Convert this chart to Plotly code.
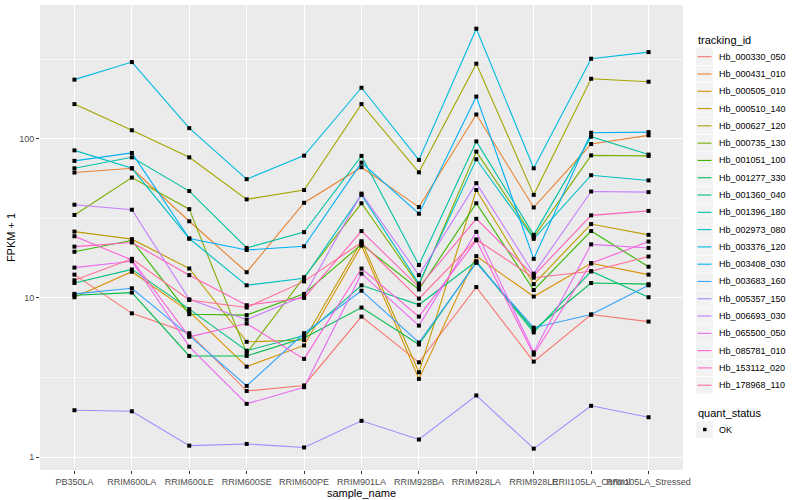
import plotly.graph_objects as go

samples = ["PB350LA", "RRIM600LA", "RRIM600LE", "RRIM600SE", "RRIM600PE", "RRIM901LA",
           "RRIM928BA", "RRIM928LA", "RRIM928LE", "RRII105LA_Control", "RRII105LA_Stressed"]

tracking_ids = ["Hb_000330_050", "Hb_000431_010", "Hb_000505_010", "Hb_000510_140", "Hb_000627_120",
                "Hb_000735_130", "Hb_001051_100", "Hb_001277_330", "Hb_001360_040", "Hb_001396_180",
                "Hb_002973_080", "Hb_003376_120", "Hb_003408_030", "Hb_003683_160", "Hb_005357_150",
                "Hb_006693_030", "Hb_065500_050", "Hb_085781_010", "Hb_153112_020", "Hb_178968_110"]

colors = ["#F8766D", "#EA8331", "#D89000", "#C09B00", "#A3A500", "#7CAE00", "#39B600", "#00BB4E",
          "#00BF7D", "#00C1A3", "#00BFC4", "#00BAE0", "#00B0F6", "#35A2FF", "#9590FF", "#C77CFF",
          "#E76BF3", "#FA62DB", "#FF62BC", "#FF6C91"]

quant_status = ["OK"]

# FPKM + 1 per sample, one list per tracking_id
Hb_000330_050 = [14.0, 8.0, 6.0, 2.6, 2.82, 7.63, 3.94, 11.7, 3.98, 7.86, 7.1]
Hb_000431_010 = [61.3, 65.2, 30.3, 14.5, 39.6, 66.2, 37.2, 142, 37.0, 92.6, 105]
Hb_000505_010 = [10.1, 14.6, 8.2, 3.7, 5.03, 21.3, 3.1, 18.3, 10.2, 16.5, 14.0]
Hb_000510_140 = [26.1, 23.4, 15.3, 5.3, 5.44, 22.7, 3.41, 47.6, 12.2, 29.1, 24.9]
Hb_000627_120 = [165, 113, 76.4, 41.6, 47.6, 165, 61.5, 296, 44.4, 238, 228]
Hb_000735_130 = [33.2, 57.0, 36.1, 4.5, 13.5, 39.3, 12.0, 83.0, 24.0, 78.6, 78.0]
Hb_001051_100 = [19.5, 23.0, 7.9, 7.8, 10.6, 21.7, 11.3, 39.3, 11.2, 26.3, 15.7]
Hb_001277_330 = [10.4, 10.8, 4.32, 4.32, 5.6, 8.7, 5.1, 16.8, 6.3, 12.4, 12.2]
Hb_001360_040 = [12.4, 15.1, 8.5, 4.66, 5.8, 12.0, 9.05, 17.0, 6.07, 14.7, 10.1]
Hb_001396_180 = [65.2, 76.4, 46.9, 20.6, 25.9, 78.0, 16.1, 96.2, 24.9, 103, 79.5]
Hb_002973_080 = [84.5, 65.2, 23.6, 12.0, 13.3, 44.4, 12.3, 74.3, 23.5, 59.0, 54.7]
Hb_003376_120 = [235, 303, 116.5, 55.7, 78.3, 209, 73.6, 491, 65.2, 318, 350]
Hb_003408_030 = [72.6, 81.4, 23.6, 20.0, 21.1, 70.8, 33.8, 184, 17.6, 109, 110]
Hb_003683_160 = [10.6, 11.5, 5.8, 2.8, 6.0, 11.1, 5.25, 16.6, 6.5, 7.86, 12.0]
Hb_005357_150 = [1.97, 1.94, 1.18, 1.21, 1.15, 1.69, 1.29, 2.44, 1.13, 2.1, 1.78]
Hb_006693_030 = [38.5, 35.8, 9.8, 7.3, 10.3, 45.2, 13.9, 52.6, 14.2, 46.6, 46.2]
Hb_065500_050 = [15.5, 17.0, 4.94, 2.16, 2.75, 14.2, 6.7, 26.0, 4.55, 21.7, 20.6]
Hb_085781_010 = [24.4, 17.3, 5.7, 6.9, 4.14, 15.3, 7.63, 23.0, 4.4, 16.5, 22.6]
Hb_153112_020 = [21.0, 22.3, 13.9, 9.0, 10.0, 26.3, 11.7, 31.4, 13.8, 33.0, 35.2]
Hb_178968_110 = [12.9, 17.6, 9.7, 8.7, 12.7, 22.3, 9.9, 23.3, 13.4, 14.7, 18.2]

series = [Hb_000330_050, Hb_000431_010, Hb_000505_010, Hb_000510_140, Hb_000627_120,
          Hb_000735_130, Hb_001051_100, Hb_001277_330, Hb_001360_040, Hb_001396_180,
          Hb_002973_080, Hb_003376_120, Hb_003408_030, Hb_003683_160, Hb_005357_150,
          Hb_006693_030, Hb_065500_050, Hb_085781_010, Hb_153112_020, Hb_178968_110]

FONT = "Liberation Sans, Arial, sans-serif"
W, H = 800, 500
PL, PR, PT, PB = 40, 683, 5, 470  # panel box in pixels


def px(x):
    return (x - PL) / (PR - PL)


def py(y):
    return (PB - y) / (PB - PT)


fig = go.Figure()
for tid, col, vals in zip(tracking_ids, colors, series):
    fig.add_trace(go.Scatter(x=samples, y=vals, mode="lines", name=tid,
                             line=dict(color=col, width=1.1), showlegend=False,
                             hoverinfo="x+y+name"))

all_x = [s for vals in series for s in samples]
all_y = [v for vals in series for v in vals]
fig.add_trace(go.Scatter(x=all_x, y=all_y, mode="markers", name=quant_status[0],
                         marker=dict(symbol="square", size=4, color="black"),
                         showlegend=False))

# ggplot-style legend drawn as annotations + key boxes
annotations = []
shapes = []
key_l, key_r = 696, 713
text_x = 717
annotations.append(dict(text="tracking_id", x=px(696), y=py(40.5), xref="paper", yref="paper",
                        xanchor="left", yanchor="middle", showarrow=False,
                        font=dict(size=11, color="black")))
step = 17.29
for i, (tid, col) in enumerate(zip(tracking_ids, colors)):
    cy = 56.7 + step * i
    shapes.append(dict(type="rect", xref="paper", yref="paper", x0=px(key_l), x1=px(key_r),
                       y0=py(cy - step / 2 + 0.3), y1=py(cy + step / 2 - 0.3),
                       fillcolor="#F2F2F2", line=dict(width=0), layer="below"))
    shapes.append(dict(type="line", xref="paper", yref="paper", x0=px(key_l + 1.5), x1=px(key_r - 1.5),
                       y0=py(cy), y1=py(cy), line=dict(color=col, width=1.1)))
    annotations.append(dict(text=tid, x=px(text_x), y=py(cy), xref="paper", yref="paper",
                            xanchor="left", yanchor="middle", showarrow=False,
                            font=dict(size=9, color="black")))

annotations.append(dict(text="quant_status", x=px(696), y=py(412.7), xref="paper", yref="paper",
                        xanchor="left", yanchor="middle", showarrow=False,
                        font=dict(size=11, color="black")))
ok_y = 429.5
shapes.append(dict(type="rect", xref="paper", yref="paper", x0=px(key_l), x1=px(key_r),
                   y0=py(ok_y - step / 2 + 0.3), y1=py(ok_y + step / 2 - 0.3),
                   fillcolor="#F2F2F2", line=dict(width=0), layer="below"))
shapes.append(dict(type="rect", xref="paper", yref="paper", x0=px(703), x1=px(706.5),
                   y0=py(ok_y - 1.7), y1=py(ok_y + 1.7), fillcolor="black", line=dict(width=0)))
annotations.append(dict(text=quant_status[0], x=px(text_x), y=py(ok_y), xref="paper", yref="paper",
                        xanchor="left", yanchor="middle", showarrow=False,
                        font=dict(size=9, color="black")))

fig.update_layout(
    width=W, height=H,
    margin=dict(l=PL, r=W - PR, t=PT, b=H - PB),
    paper_bgcolor="white", plot_bgcolor="#EBEBEB",
    font=dict(family=FONT, size=9, color="black"),
    showlegend=False,
    annotations=annotations, shapes=shapes,
    xaxis=dict(type="category", categoryorder="array", categoryarray=samples,
               range=[-0.6, 10.6], showgrid=True, gridcolor="white", gridwidth=1.1,
               zeroline=False, ticks="outside", ticklen=3, tickcolor="#333333",
               tickangle=0, tickfont=dict(size=9, color="#4D4D4D"),
               title=dict(text="sample_name", font=dict(size=11), standoff=0)),
    yaxis=dict(type="log", range=[-0.081, 2.84], tickvals=[1, 10, 100],
               ticktext=["1", "10", "100"], showgrid=True, gridcolor="white", gridwidth=1.1,
               zeroline=False, ticks="outside", ticklen=3, tickcolor="#333333",
               tickfont=dict(size=9, color="#4D4D4D"),
               minor=dict(tickvals=[10 ** 0.5, 10 ** 1.5, 10 ** 2.5], showgrid=True,
                          gridcolor="#F7F7F7", gridwidth=0.6, ticks=""),
               title=dict(text="FPKM + 1", font=dict(size=11), standoff=1)),
)

fig.write_html("out.html", config={"displayModeBar": False},
               post_script="document.body.style.margin='0';")
